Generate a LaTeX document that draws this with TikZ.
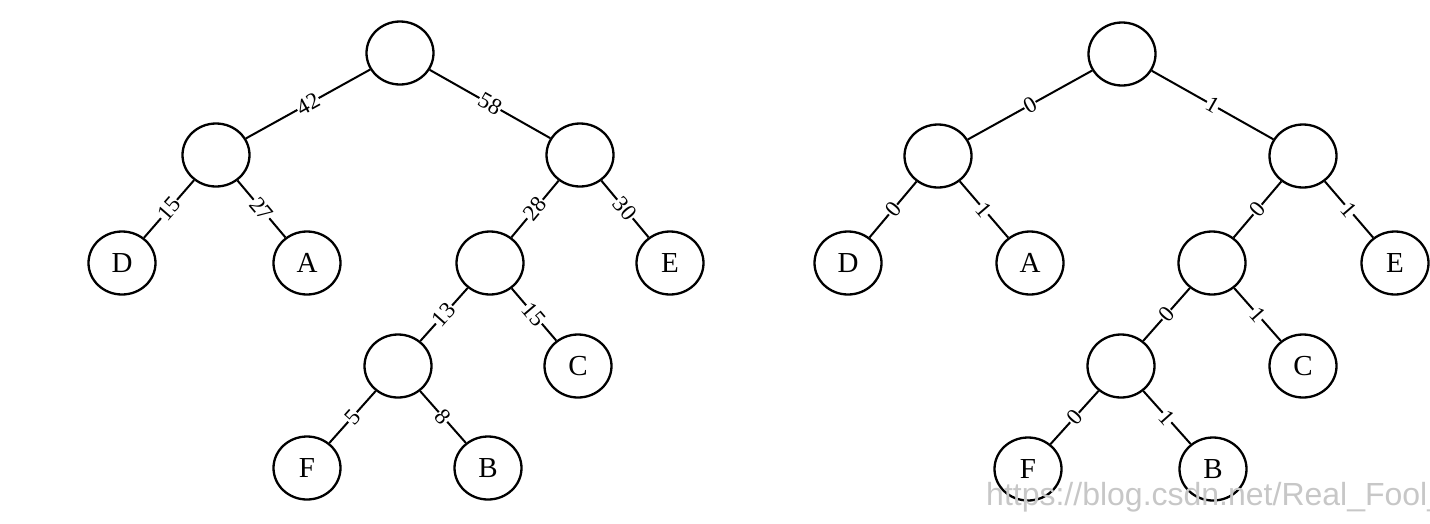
\documentclass[tikz,border=0pt]{standalone}
\usepackage{fontspec}
\setmainfont{Liberation Serif}
\newfontfamily\wmfont{Liberation Sans}
\usetikzlibrary{shapes.geometric}
\begin{document}
\begin{tikzpicture}[x=1pt,y=-1pt,
  tnode/.style={ellipse, draw, line width=2.3pt, minimum width=67pt, minimum height=63pt,
                inner sep=0pt, font=\fontsize{29}{29}\selectfont},
  tedge/.style={line width=2pt},
  wlabel/.style={midway, sloped, fill=white, inner sep=0.5pt, font=\fontsize{23}{23}\selectfont}]
\useasboundingbox (0,0) rectangle (1430,523);

% Huffman tree with weights
\node[tnode] (r)   at (400,53)  {};
\node[tnode] (l)   at (216,155) {};
\node[tnode] (rr)  at (580,155) {};
\node[tnode] (d)   at (122,263) {D};
\node[tnode] (a)   at (307,263) {A};
\node[tnode] (m)   at (490,263) {};
\node[tnode] (e)   at (670,263) {E};
\node[tnode] (n)   at (398,366) {};
\node[tnode] (c)   at (578,366) {C};
\node[tnode] (f)   at (307,468) {F};
\node[tnode] (b)   at (488,468) {B};

\draw[tedge] (r)  -- node[wlabel]{42} (l);
\draw[tedge] (r)  -- node[wlabel]{58} (rr);
\draw[tedge] (l)  -- node[wlabel]{15} (d);
\draw[tedge] (l)  -- node[wlabel]{27} (a);
\draw[tedge] (rr) -- node[wlabel]{28} (m);
\draw[tedge] (rr) -- node[wlabel]{30} (e);
\draw[tedge] (m)  -- node[wlabel]{13} (n);
\draw[tedge] (m)  -- node[wlabel]{15} (c);
\draw[tedge] (n)  -- node[wlabel]{5} (f);
\draw[tedge] (n)  -- node[wlabel]{8} (b);

% Same tree with 0/1 codes
\node[tnode] (R)   at (1122,54)  {};
\node[tnode] (L)   at (938,156)  {};
\node[tnode] (RR)  at (1303,156) {};
\node[tnode] (D)   at (848,263)  {D};
\node[tnode] (A)   at (1030,263) {A};
\node[tnode] (M)   at (1212,263) {};
\node[tnode] (E)   at (1395,263) {E};
\node[tnode] (N)   at (1121,366) {};
\node[tnode] (C)   at (1303,366) {C};
\node[tnode] (F)   at (1028,469) {F};
\node[tnode] (B)   at (1213,469) {B};

\draw[tedge] (R)  -- node[wlabel]{0} (L);
\draw[tedge] (R)  -- node[wlabel]{1} (RR);
\draw[tedge] (L)  -- node[wlabel]{0} (D);
\draw[tedge] (L)  -- node[wlabel]{1} (A);
\draw[tedge] (RR) -- node[wlabel]{0} (M);
\draw[tedge] (RR) -- node[wlabel]{1} (E);
\draw[tedge] (M)  -- node[wlabel]{0} (N);
\draw[tedge] (M)  -- node[wlabel]{1} (C);
\draw[tedge] (N)  -- node[wlabel]{0} (F);
\draw[tedge] (N)  -- node[wlabel]{1} (B);

% blog address
\node[anchor=base west, inner sep=0pt, text=black!22, font=\wmfont\fontsize{32}{32}\selectfont]
  (wm) at (986,505) {https://blog.csdn.net/Real\_Fool\_};
\end{tikzpicture}
\end{document}
